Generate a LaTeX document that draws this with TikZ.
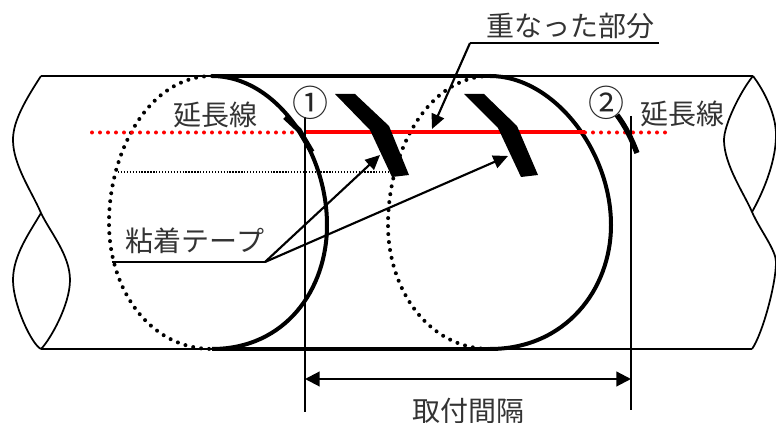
\documentclass[tikz,border=0pt]{standalone}
\usepackage{fontspec}
\setmainfont{Noto Sans CJK JP}
\usetikzlibrary{arrows.meta}
\tikzset{
  pipe/.style={line width=1.3pt,draw=black},
  rim/.style={line width=3pt,draw=black},
  hidden/.style={line width=3pt,draw=black,line cap=round,dash pattern=on 0pt off 6pt},
  extline/.style={line width=3pt,draw=red,line cap=round,dash pattern=on 0pt off 6pt},
  overlap/.style={line width=3pt,draw=red},
  guide/.style={line width=1.1pt,draw=black},
  leader/.style={line width=1.6pt,draw=black},
  tiphead/.style={-{Triangle[length=11pt,width=10pt]}},
  sensor/.style={fill=black},
  caption/.style={font=\fontsize{21}{25}\selectfont,text=black!80,inner sep=0pt},
  posmark/.style={font=\fontsize{27}{30}\selectfont,text=black!85,inner sep=0pt}
}
\begin{document}
\begin{tikzpicture}[x=0.75pt,y=-0.75pt]
  \useasboundingbox (0,0) rectangle (776,423);
  % pipe and broken ends
  \draw[pipe] (41,76) -- (212,76) (490,76) -- (753,76);
  \draw[pipe] (41,349) -- (212,349) (490,349) -- (752,349);
  \draw[pipe] (41,76) .. controls (20,108) and (13,125) .. (13,140) .. controls (13,165) and (32,192) .. (41,213)
    .. controls (50,232) and (70,255) .. (70,280) .. controls (70,305) and (50,340) .. (41,349);
  \draw[pipe] (41,213) .. controls (30,232) and (13,255) .. (13,280) .. controls (13,305) and (32,345) .. (41,349);
  \draw[pipe] (753,76) .. controls (740,92) and (724,125) .. (724,140) .. controls (724,165) and (745,195) .. (752,212)
    .. controls (760,230) and (776,250) .. (776,262) .. controls (776,285) and (762,335) .. (752,349);
  \draw[pipe] (753,76) .. controls (765,92) and (776,115) .. (776,135) .. controls (776,165) and (760,198) .. (752,212);
  % tape
  \draw[rim] (212,76) -- (490,76) (212,349) -- (490,349);
  \draw[rim] (212,76) .. controls (275,76) and (327,150) .. (327,225) .. controls (327,290) and (285,349) .. (212,349);
  \draw[rim] (490,76) .. controls (553,76) and (611,150) .. (611,225) .. controls (611,290) and (565,349) .. (490,349);
  \draw[hidden] (212,76) .. controls (150,76) and (109,150) .. (109,223) .. controls (109,290) and (150,349) .. (212,349);
  \draw[hidden] (490,76) .. controls (429,76) and (388,150) .. (388,225) .. controls (388,290) and (429,349) .. (490,349);
  % extension line
  \coordinate (extL) at (92,132.5);
  \coordinate (ext1) at (305,132.5);
  \coordinate (ext2) at (585,132.5);
  \coordinate (extR) at (665,132.5);
  \draw[extline] (extL) -- (ext1);
  \draw[extline] (ext2) -- (extR);
  \draw[overlap] (ext1) -- (ext2);
  \draw[line width=1pt,draw=black,dash pattern=on 1pt off 1.2pt] (118,172) -- (390,172);
  % sensors
  \fill[sensor] (335,94) -- (355,94) -- (389,126) -- (409,175) -- (392,177) -- (370,130) -- cycle;
  \fill[sensor] (464,94) -- (484,94) -- (517,126) -- (538,175) -- (521,177) -- (498,128) -- cycle;
  \draw[line width=4pt] (285,117) -- (299,130) -- (312,152);
  \draw[line width=4pt] (617,115) .. controls (626,127) and (632,140) .. (637,153);
  % spacing
  \coordinate (gap1) at (305,117);
  \coordinate (gap1e) at (305,412);
  \coordinate (gap2) at (631,116);
  \coordinate (gap2e) at (631,410);
  \draw[guide] (gap1) -- (gap1e);
  \draw[guide] (gap2) -- (gap2e);
  \coordinate (dimL) at (305,379);
  \coordinate (dimR) at (631,379);
  \draw[leader,{Triangle[length=11pt,width=11pt]}-{Triangle[length=11pt,width=11pt]}] (dimL) -- (dimR);
  % labels
  \node[caption] (extA) at (215,115) {延長線};
  \node[caption] (extB) at (682,114) {延長線};
  \node[caption] (tape) at (195,241) {粘着テープ};
  \node[caption] (over) at (570,26) {重なった部分};
  \node[caption] (span) at (468,411) {取付間隔};
  \node[posmark] (pos1) at (310,103) {①};
  \node[posmark] (pos2) at (606,103) {②};
  % leaders
  \coordinate (tapeL) at (112,262);
  \coordinate (tapeR) at (265,262);
  \coordinate (tipA) at (380,155);
  \coordinate (tipB) at (508,156);
  \draw[leader] (tapeL) -- (tapeR);
  \draw[leader,tiphead] (tapeR) -- (tipA);
  \draw[leader,tiphead] (tapeR) -- (tipB);
  \coordinate (overL) at (470,43);
  \coordinate (overR) at (659,43);
  \coordinate (tipC) at (432,129);
  \draw[leader] (overR) -- (overL);
  \draw[leader,tiphead] (overL) -- (tipC);
\end{tikzpicture}
\end{document}
